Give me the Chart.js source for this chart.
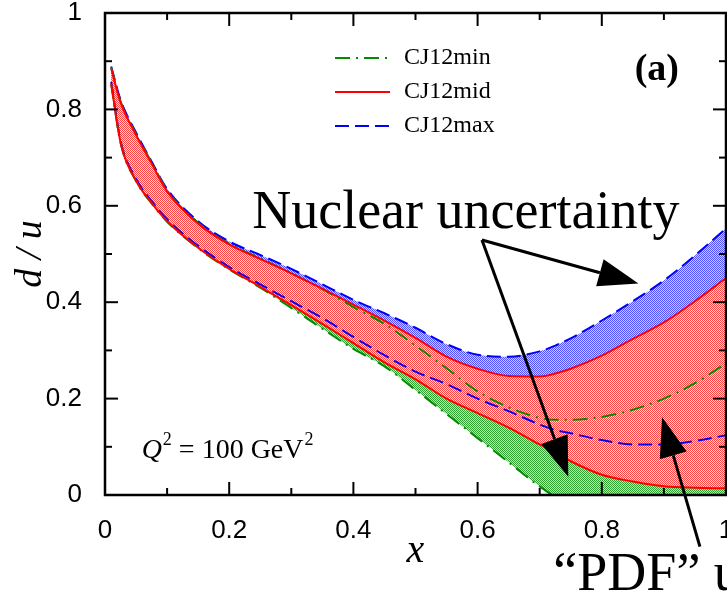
<!DOCTYPE html>
<html>
<head>
<meta charset="utf-8">
<script src="https://cdn.jsdelivr.net/npm/chart.js@4/dist/chart.umd.min.js"></script>
<style>
  body { margin: 0; background: #fff; }
  #wrap { width: 727px; height: 599px; }
</style>
</head>
<body>
<div id="wrap"><canvas id="stage" width="727" height="599"></canvas></div>
<script>
// d/u ratio at Q^2 = 100 GeV^2
const xs       = [0.01, 0.025, 0.05, 0.075, 0.1, 0.15, 0.2, 0.25, 0.3, 0.35, 0.4, 0.45, 0.5, 0.55, 0.6, 0.65, 0.7, 0.725, 0.75, 0.8, 0.85, 0.9, 0.95, 1.0];
const cjMidHi  = [0.885, 0.815, 0.747, 0.688, 0.630, 0.563, 0.520, 0.490, 0.460, 0.428, 0.395, 0.362, 0.326, 0.287, 0.262, 0.247, 0.246, 0.252, 0.262, 0.289, 0.324, 0.358, 0.402, 0.450];
const cjMidLo  = [0.853, 0.732, 0.652, 0.606, 0.568, 0.513, 0.469, 0.432, 0.394, 0.355, 0.315, 0.275, 0.240, 0.200, 0.170, 0.140, 0.105, 0.088, 0.070, 0.042, 0.028, 0.018, 0.015, 0.014];
const cjMinHi  = [0.887, 0.817, 0.749, 0.690, 0.632, 0.565, 0.521, 0.491, 0.460, 0.427, 0.390, 0.355, 0.310, 0.263, 0.215, 0.182, 0.160, 0.156, 0.156, 0.162, 0.177, 0.200, 0.232, 0.273];
const cjMinLo  = [0.852, 0.731, 0.651, 0.605, 0.567, 0.512, 0.468, 0.430, 0.388, 0.345, 0.303, 0.267, 0.218, 0.168, 0.118, 0.068, 0.018, 0.000, 0.000, 0.000, 0.000, 0.000, 0.000, 0.000];
const cjMaxHi  = [0.889, 0.820, 0.752, 0.692, 0.635, 0.568, 0.526, 0.498, 0.469, 0.437, 0.405, 0.377, 0.347, 0.313, 0.291, 0.287, 0.298, 0.310, 0.325, 0.362, 0.402, 0.445, 0.497, 0.553];
const cjMaxLo  = [0.857, 0.735, 0.656, 0.610, 0.572, 0.517, 0.473, 0.437, 0.402, 0.367, 0.328, 0.290, 0.256, 0.230, 0.200, 0.174, 0.146, 0.135, 0.128, 0.114, 0.105, 0.105, 0.112, 0.124];

const seriesNames = ['CJ12min', 'CJ12mid', 'CJ12max'];
const majorTicks = [0, 0.2, 0.4, 0.6, 0.8, 1];
const tickLabels = ['0', '0.2', '0.4', '0.6', '0.8', '1'];

const pts = arr => xs.map((x, i) => ({x: x, y: arr[i]}));

const ctx = document.getElementById('stage').getContext('2d');

// checker fill like the original postscript shading
function dither(c1, c2) {
  const p = document.createElement('canvas');
  p.width = 2; p.height = 2;
  const g = p.getContext('2d');
  g.fillStyle = c2; g.fillRect(0, 0, 2, 2);
  g.fillStyle = c1; g.fillRect(0, 0, 1, 1); g.fillRect(1, 1, 1, 1);
  return ctx.createPattern(p, 'repeat');
}

const RED = 'rgb(255,0,0)', GREEN = 'rgb(0,140,0)', BLUE = 'rgb(0,0,255)';
const dashMin = [15, 6, 2, 6], dashMax = [14, 6];

const isMajor = v => majorTicks.some(m => Math.abs(m - v) < 1e-6);
const tickText = v => {
  const i = majorTicks.findIndex(m => Math.abs(m - v) < 1e-6);
  return i >= 0 ? tickLabels[i] : '';
};

function line(c, x1, y1, x2, y2) {
  c.beginPath(); c.moveTo(x1, y1); c.lineTo(x2, y2); c.stroke();
}

function arrow(c, x1, y1, x2, y2) {
  const head = 40, half = 14;
  const a = Math.atan2(y2 - y1, x2 - x1);
  const bx = x2 - head * Math.cos(a), by = y2 - head * Math.sin(a);
  line(c, x1, y1, bx, by);
  c.beginPath();
  c.moveTo(x2, y2);
  c.lineTo(bx + half * Math.sin(a), by - half * Math.cos(a));
  c.lineTo(bx - half * Math.sin(a), by + half * Math.cos(a));
  c.closePath(); c.fill();
}

const decor = {
  id: 'decor',
  afterDraw(chart) {
    const c = chart.ctx, a = chart.chartArea;
    const sx = chart.scales.x, sy = chart.scales.y;
    const X = v => sx.getPixelForValue(v), Y = v => sy.getPixelForValue(v);
    c.save();
    c.strokeStyle = '#000'; c.fillStyle = '#000';

    // frame + inward ticks on all four sides
    c.lineWidth = 2.5;
    c.strokeRect(a.left, a.top, a.right - a.left, a.bottom - a.top);
    c.lineWidth = 2;
    sx.ticks.forEach(t => {
      const p = X(t.value), L = isMajor(t.value) ? 13 : 7;
      line(c, p, a.bottom, p, a.bottom - L);
      line(c, p, a.top, p, a.top + L);
    });
    sy.ticks.forEach(t => {
      const p = Y(t.value), L = isMajor(t.value) ? 13 : 7;
      line(c, a.left, p, a.left + L, p);
      line(c, a.right, p, a.right - L, p);
    });

    // legend inside the frame
    const legendSets = [2, 0, 4];
    c.font = '24px "Liberation Serif"';
    c.textBaseline = 'middle';
    legendSets.forEach((di, k) => {
      const ds = chart.data.datasets[di];
      const yy = a.top + 45 + k * 34;
      c.save();
      c.strokeStyle = ds.borderColor; c.lineWidth = 2;
      c.setLineDash(ds.borderDash || []);
      line(c, a.left + 230, yy, a.left + 285, yy);
      c.restore();
      c.fillText(seriesNames[k], a.left + 299, yy);
    });

    // panel tag
    c.textBaseline = 'alphabetic';
    c.font = 'bold 38px "Liberation Serif"';
    c.fillText('(a)', X(0.853), Y(0.861));

    // Q^2 label
    let qx = X(0.059); const qy = Y(0.077);
    c.font = 'italic 28px "Liberation Serif"';
    c.fillText('Q', qx, qy); qx += c.measureText('Q').width + 1;
    c.font = '18px "Liberation Serif"';
    c.fillText('2', qx, qy - 13); qx += c.measureText('2').width;
    c.font = '28px "Liberation Serif"';
    c.fillText(' = 100 GeV', qx, qy); qx += c.measureText(' = 100 GeV').width + 1;
    c.font = '18px "Liberation Serif"';
    c.fillText('2', qx, qy - 13);

    // annotations
    c.font = '54px "Liberation Serif"';
    c.fillText('Nuclear uncertainty', X(0.237), Y(0.554));
    c.fillText('\u201CPDF\u201D uncertainty', X(0.722), Y(-0.197));
    c.lineWidth = 3;
    arrow(c, X(0.607), Y(0.529), X(0.859), Y(0.439));
    arrow(c, X(0.607), Y(0.529), X(0.746), Y(0.038));
    arrow(c, X(0.958), Y(-0.107), X(0.897), Y(0.162));
    c.restore();
  }
};

const base = {pointRadius: 0, borderWidth: 2, cubicInterpolationMode: 'monotone'};

new Chart(ctx, {
  type: 'line',
  data: {
    datasets: [
      {...base, label: 'CJ12mid', data: pts(cjMidHi), borderColor: RED, fill: '+1', backgroundColor: dither('rgb(255,70,70)', 'rgb(255,215,215)')},
      {...base, label: 'CJ12mid lo', data: pts(cjMidLo), borderColor: RED, fill: false},
      {...base, label: 'CJ12min', data: pts(cjMinHi), borderColor: GREEN, borderDash: dashMin, fill: '+1', backgroundColor: dither('rgb(50,160,50)', 'rgb(190,230,190)')},
      {...base, label: 'CJ12min lo', data: pts(cjMinLo), borderColor: GREEN, borderDash: dashMin, fill: false},
      {...base, label: 'CJ12max', data: pts(cjMaxHi), borderColor: BLUE, borderDash: dashMax, fill: '+1', backgroundColor: dither('rgb(80,80,255)', 'rgb(205,205,255)')},
      {...base, label: 'CJ12max lo', data: pts(cjMaxLo), borderColor: BLUE, borderDash: dashMax, fill: false}
    ]
  },
  options: {
    responsive: false,
    animation: false,
    layout: {padding: {top: 13, right: 1, left: 0, bottom: 0}},
    plugins: {
      legend: {display: false},
      tooltip: {enabled: false},
      filler: {drawTime: 'beforeDatasetsDraw'}
    },
    scales: {
      x: {
        type: 'linear', min: 0, max: 1,
        grid: {display: false}, border: {display: false},
        ticks: {stepSize: 0.1, autoSkip: false, maxRotation: 0, padding: 12, color: '#000',
                font: {family: 'Liberation Sans', size: 26}, callback: v => tickText(v)},
        title: {display: true, text: 'x', color: '#000', padding: {top: 0, bottom: 24},
                font: {family: 'Liberation Serif', size: 40, style: 'italic'}},
        afterFit: s => { s.height = 104; s.paddingLeft = 0; s.paddingRight = 0; }
      },
      y: {
        min: 0, max: 1,
        grid: {display: false}, border: {display: false},
        ticks: {stepSize: 0.1, autoSkip: false, padding: 15, color: '#000',
                font: {family: 'Liberation Sans', size: 26}, callback: v => tickText(v)},
        title: {display: true, text: 'd / u', color: '#000', padding: {top: 8, bottom: 0},
                font: {family: 'Liberation Serif', size: 38, style: 'italic'}},
        afterFit: s => { s.width = 105; s.paddingTop = 0; s.paddingBottom = 0; }
      }
    }
  },
  plugins: [decor]
});
</script>
</body>
</html>
